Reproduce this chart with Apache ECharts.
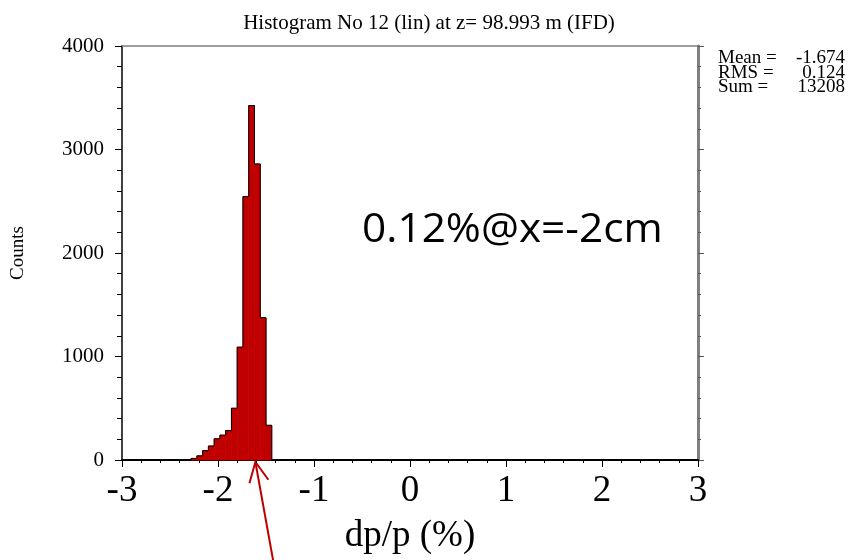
<!DOCTYPE html>
<html>
<head>
<meta charset="utf-8">
<script src="https://cdn.jsdelivr.net/npm/echarts@6/dist/echarts.min.js"></script>
<style>
  html, body { margin: 0; padding: 0; background: #fff; }
  #chart { width: 852px; height: 560px; }
</style>
</head>
<body>
<div id="chart"></div>
<script>
// Histogram bins: lower edges (dp/p, %) and counts
const binWidth = 0.06;
const binLow = [-2.28, -2.22, -2.16, -2.10, -2.04, -1.98, -1.92, -1.86, -1.80, -1.74, -1.68, -1.62, -1.56, -1.50];
const binCounts = [15, 40, 90, 135, 205, 240, 285, 500, 1090, 2545, 3425, 2860, 1375, 335];

// Axis ticks
const xTicks = [-3, -2, -1, 0, 1, 2, 3];
const yTicks = [0, 1000, 2000, 3000, 4000];

// Statistics box
const statNames = ['Mean =', 'RMS =', 'Sum ='];
const statValues = ['-1.674', '0.124', '13208'];

const titleText = 'Histogram No 12 (lin) at z= 98.993 m (IFD)';
const noteText = '0.12%@x=-2cm';
const arrowAt = -1.6;

const SERIF = '"Liberation Serif", "Times New Roman", serif';
const RED = '#c00000';

const chart = echarts.init(document.getElementById('chart'), null, { renderer: 'canvas' });

const histData = binLow.map((x0, i) => [
  x0, x0 + binWidth, binCounts[i],
  i > 0 ? binCounts[i - 1] : 0,
  i === binLow.length - 1 ? 1 : 0
]);

// One bin: red fill plus the step outline (left step and top edge)
function renderBin(params, api) {
  const x0 = api.value(0), x1 = api.value(1), h = api.value(2);
  const prev = api.value(3), last = api.value(4);
  const pBL = api.coord([x0, 0]);
  const pTR = api.coord([x1, h]);
  const pts = [api.coord([x0, prev]), api.coord([x0, h]), pTR];
  if (last) pts.push(api.coord([x1, 0]));
  return {
    type: 'group',
    children: [
      {
        type: 'rect',
        shape: { x: pBL[0], y: pTR[1], width: pTR[0] - pBL[0], height: pBL[1] - pTR[1] },
        style: { fill: RED, stroke: RED, lineWidth: 0.8 }
      },
      {
        type: 'polyline',
        shape: { points: pts },
        style: { stroke: '#000', lineWidth: 1, fill: null }
      }
    ]
  };
}

const option = {
  animation: false,
  backgroundColor: '#fff',
  title: {
    text: titleText,
    left: 424,
    textAlign: 'center',
    top: 8,
    textStyle: { fontFamily: SERIF, fontWeight: 'normal', fontSize: 21, color: '#000' }
  },
  grid: { left: 122, right: 154, top: 46, bottom: 100 },
  xAxis: [
    {
      type: 'value',
      min: xTicks[0],
      max: xTicks[xTicks.length - 1],
      interval: 1,
      name: 'dp/p (%)',
      nameLocation: 'middle',
      nameGap: 58,
      nameTextStyle: { fontFamily: SERIF, fontSize: 37, color: '#000' },
      axisLine: { show: true, onZero: false, lineStyle: { color: '#000', width: 2 } },
      axisTick: { show: true, length: 7, lineStyle: { color: '#000', width: 1 } },
      minorTick: { show: true, splitNumber: 5, length: 3, lineStyle: { color: '#000', width: 1 } },
      axisLabel: { fontFamily: SERIF, fontSize: 37, color: '#000', margin: 13 },
      splitLine: { show: false }
    },
    {
      type: 'value',
      position: 'top',
      min: xTicks[0],
      max: xTicks[xTicks.length - 1],
      axisLine: { show: true, onZero: false, lineStyle: { color: '#808080', width: 1.5 } },
      axisTick: { show: false },
      axisLabel: { show: false },
      splitLine: { show: false }
    }
  ],
  yAxis: [
    {
      type: 'value',
      min: yTicks[0],
      max: yTicks[yTicks.length - 1],
      interval: 1000,
      name: 'Counts',
      nameLocation: 'middle',
      nameGap: 94,
      nameTextStyle: { fontFamily: SERIF, fontSize: 19, color: '#000' },
      axisLine: { show: true, onZero: false, lineStyle: { color: '#000', width: 1.5 } },
      axisTick: { show: true, length: 7, lineStyle: { color: '#000', width: 1 } },
      minorTick: { show: true, splitNumber: 5, length: 5, lineStyle: { color: '#000', width: 1 } },
      axisLabel: {
        fontFamily: SERIF, fontSize: 21, color: '#000', margin: 18,
        formatter: v => String(v)
      },
      splitLine: { show: false }
    },
    {
      type: 'value',
      position: 'right',
      min: yTicks[0],
      max: yTicks[yTicks.length - 1],
      interval: 1000,
      axisLine: { show: true, onZero: false, lineStyle: { color: '#808080', width: 3 } },
      axisTick: { show: true, length: 6, lineStyle: { color: '#555', width: 1 } },
      minorTick: { show: true, splitNumber: 5, length: 3, lineStyle: { color: '#555', width: 1 } },
      axisLabel: { show: false },
      splitLine: { show: false }
    }
  ],
  series: [
    {
      type: 'custom',
      renderItem: renderBin,
      encode: { x: [0, 1], y: 2 },
      data: histData,
      z: 1
    }
  ]
};

chart.setOption(option);

// Annotations: statistics box, note text and the arrow under the peak
const graphics = [];
statNames.forEach((name, i) => {
  graphics.push({
    type: 'text', left: 718, top: 49 + i * 14.5,
    style: { text: name, font: '19px ' + SERIF, fill: '#000' }
  });
  graphics.push({
    type: 'text', right: 7, top: 49 + i * 14.5,
    style: { text: statValues[i], font: '19px ' + SERIF, fill: '#000' }
  });
});
graphics.push({
  type: 'text', left: 362, top: 211, scaleX: 1.06,
  style: { text: noteText, font: '40px "Open Sans", Lato, sans-serif', fill: '#000' }
});

const tip = chart.convertToPixel({ xAxisIndex: 0, yAxisIndex: 0 }, [arrowAt, 0]);
tip[0] -= 1;
tip[1] += 2;
const tail = [tip[0] + 18, 562];
const dx = tail[0] - tip[0], dy = tail[1] - tip[1];
const len = Math.sqrt(dx * dx + dy * dy);
const ux = dx / len, uy = dy / len;
const headLen = 22, ang = 26 * Math.PI / 180;
function wing(a) {
  return [tip[0] + headLen * (ux * Math.cos(a) - uy * Math.sin(a)),
          tip[1] + headLen * (ux * Math.sin(a) + uy * Math.cos(a))];
}
graphics.push({
  type: 'line',
  shape: { x1: tip[0], y1: tip[1], x2: tail[0], y2: tail[1] },
  style: { stroke: RED, lineWidth: 2 }
});
graphics.push({
  type: 'polyline',
  shape: { points: [wing(ang), tip, wing(-ang)] },
  style: { stroke: RED, lineWidth: 2, fill: null }
});

chart.setOption({ graphic: graphics });
</script>
</body>
</html>
